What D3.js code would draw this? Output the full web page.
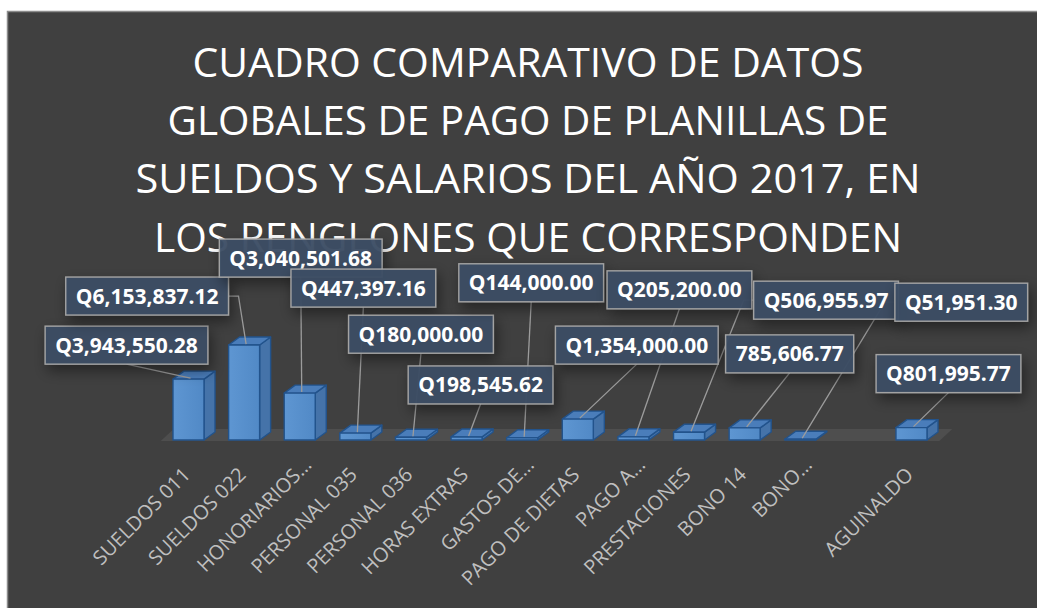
<!DOCTYPE html>
<html>
<head>
<meta charset="utf-8">
<script src="https://cdn.jsdelivr.net/npm/d3@7/dist/d3.min.js"></script>
<style>
  body { margin: 0; background: #ffffff; }
  svg { display: block; }
</style>
</head>
<body>
<script>
'use strict';

var categories = ['SUELDOS 011', 'SUELDOS 022', 'HONORIARIOS…', 'PERSONAL 035', 'PERSONAL 036',
    'HORAS EXTRAS', 'GASTOS DE…', 'PAGO DE DIETAS', 'PAGO A…', 'PRESTACIONES', 'BONO 14',
    'BONO…', '', 'AGUINALDO'];
var values = [3943550.28, 6153837.12, 3040501.68, 447397.16, 180000.00,
    198545.62, 144000.00, 1354000.00, 205200.00, 506955.97, 785606.77,
    51951.30, null, 801995.77];
var valueLabels = ['Q3,943,550.28', 'Q6,153,837.12', 'Q3,040,501.68', 'Q447,397.16', 'Q180,000.00',
    'Q198,545.62', 'Q144,000.00', 'Q1,354,000.00', 'Q205,200.00', 'Q506,955.97', '785,606.77',
    'Q51,951.30', '', 'Q801,995.77'];
var titleLines = ['CUADRO COMPARATIVO DE DATOS', 'GLOBALES DE PAGO DE PLANILLAS DE',
    'SUELDOS Y SALARIOS DEL AÑO 2017, EN', 'LOS RENGLONES QUE CORRESPONDEN'];

// layout: where each label box sits, relative to the top of its bar
var labelOffsets = [[-64, -33], [-99, -48], [-1, -134], [6, -144], [8, -102],
    [12, -51], [7, -154], [57, -73], [44, -146], [135, -131], [43, -73],
    [159, -136], null, [35, -53]];
var titleWidths = [671, 721, 785, 748];

var width = 1037,
    height = 608;
var depthX = 11,
    depthY = 8;

var svg = d3.select('body')
    .append('svg')
    .attr('width', width)
    .attr('height', height);

var defs = svg.append('defs');

var shadow = defs.append('filter')
    .attr('id', 'shadow')
    .attr('x', '-30%').attr('y', '-60%')
    .attr('width', '170%').attr('height', '260%');
shadow.append('feDropShadow')
    .attr('dx', 3).attr('dy', 6)
    .attr('stdDeviation', 7)
    .attr('flood-color', '#000')
    .attr('flood-opacity', 0.45);

var grad = defs.append('linearGradient')
    .attr('id', 'front')
    .attr('x1', 0).attr('x2', 1).attr('y1', 0).attr('y2', 0);
grad.append('stop').attr('offset', '0%').attr('stop-color', '#5e96d2');
grad.append('stop').attr('offset', '100%').attr('stop-color', '#5189c6');

// chart area frame
svg.append('rect')
    .attr('x', 7.5)
    .attr('y', 11.5)
    .attr('width', width)
    .attr('height', height)
    .attr('fill', '#404040')
    .attr('stroke', '#8c8c8c')
    .attr('stroke-width', 1.5);

// title
svg.append('g')
    .selectAll('text')
    .data(titleLines)
    .enter()
    .append('text')
    .attr('x', 528)
    .attr('y', function(d, i) { return 76.5 + i * 58.4; })
    .attr('text-anchor', 'middle')
    .attr('textLength', function(d, i) { return titleWidths[i]; })
    .attr('lengthAdjust', 'spacingAndGlyphs')
    .attr('fill', '#ffffff')
    .style('font-family', '"Open Sans", "Noto Sans", sans-serif')
    .style('font-size', '40.5px')
    .text(function(d) { return d; });

var x = d3.scaleBand()
    .domain(categories)
    .range([160.7, 939.3])
    .paddingInner(0.4424)
    .paddingOuter(0.2212);

var y = d3.scaleLinear()
    .domain([0, 7000000])
    .range([440, 332]);

// floor
var r = x.range();
var floor = [[r[0], y(0) + 1], [r[1], y(0) + 1], [r[1] + 13, y(0) - 11], [r[0] + 13, y(0) - 11]];
svg.append('polygon')
    .attr('points', floor.join(' '))
    .attr('fill', '#4e4e4e');

var data = categories.map(function(c, i) {
    return { cat: c, value: values[i], label: valueLabels[i], offset: labelOffsets[i] };
}).filter(function(d) { return d.value !== null; });

var bw = x.bandwidth();

var bar = svg.append('g')
    .selectAll('g')
    .data(data)
    .enter()
    .append('g')
    .attr('stroke', '#22538c')
    .attr('stroke-width', 1.4)
    .attr('stroke-linejoin', 'round');

bar.append('polygon') // side
    .attr('fill', '#4573a9')
    .attr('points', function(d) {
        var x0 = x(d.cat) + bw, yt = y(d.value), yb = y(0);
        return [[x0, yt], [x0 + depthX, yt - depthY], [x0 + depthX, yb - depthY], [x0, yb]].join(' ');
    });

bar.append('polygon') // top
    .attr('fill', '#4a7dba')
    .attr('points', function(d) {
        var x0 = x(d.cat), yt = y(d.value);
        return [[x0, yt], [x0 + depthX, yt - depthY], [x0 + bw + depthX, yt - depthY], [x0 + bw, yt]].join(' ');
    });

bar.append('rect') // front
    .attr('fill', 'url(#front)')
    .attr('x', function(d) { return x(d.cat); })
    .attr('y', function(d) { return y(d.value); })
    .attr('width', bw)
    .attr('height', function(d) { return y(0) - y(d.value); });

// category labels, rotated
svg.append('g')
    .selectAll('text')
    .data(categories)
    .enter()
    .append('text')
    .attr('transform', function(d) {
        // truncated names sit a little further along the diagonal
        var shift = d.slice(-1) === '…' ? 10 : 0;
        var tx = x(d) + bw / 2 + 3 + shift;
        var ty = y(0) + 36 - shift;
        return 'translate(' + tx + ',' + ty + ') rotate(-45)';
    })
    .attr('text-anchor', 'end')
    .attr('fill', '#bfbfbf')
    .style('font-family', '"Open Sans", "Noto Sans", sans-serif')
    .style('font-size', '20px')
    .text(function(d) { return d; });

// data labels with leader lines
var leaders = svg.append('g')
    .attr('fill', 'none')
    .attr('stroke', '#9c9c9c')
    .attr('stroke-width', 1.3);

var boxes = svg.append('g');

var lab = boxes.selectAll('g')
    .data(data)
    .enter()
    .append('g');

var rects = lab.append('rect');

var texts = lab.append('text')
    .attr('text-anchor', 'middle')
    .attr('fill', '#ffffff')
    .style('font-family', '"Open Sans", "Noto Sans", sans-serif')
    .style('font-weight', 'bold')
    .style('font-size', '21px')
    .text(function(d) { return d.label; });

texts.each(function(d) {
    var tw = this.getComputedTextLength();
    d.ax = x(d.cat) + bw / 2 + 2;
    d.ay = y(d.value) - 1;
    d.box = {
        w: tw + 20,
        h: 38
    };
    d.box.x = d.ax + d.offset[0] - d.box.w / 2;
    d.box.y = d.ay + d.offset[1] - d.box.h / 2;
});

texts
    .attr('x', function(d) { return d.box.x + d.box.w / 2; })
    .attr('y', function(d) { return d.box.y + d.box.h / 2 + 7.5; });

rects
    .attr('x', function(d) { return d.box.x; })
    .attr('y', function(d) { return d.box.y; })
    .attr('width', function(d) { return d.box.w; })
    .attr('height', function(d) { return d.box.h; })
    .attr('fill', '#3b4d64')
    .attr('fill-opacity', 0.95)
    .attr('stroke', '#a3a3a3')
    .attr('stroke-width', 1.4)
    .attr('filter', 'url(#shadow)');

function leaderPoints(d) {
    var b = d.box;
    if (d.ax >= b.x && d.ax <= b.x + b.w) {
        return [[b.x + b.w / 2, b.y + b.h], [d.ax, d.ay]];
    }
    var side = d.ax < b.x ? b.x : b.x + b.w;
    var elbow = d.ax < b.x ? side - 10 : side + 10;
    var my = b.y + b.h / 2;
    return [[side, my], [elbow, my], [d.ax, d.ay]];
}

leaders.selectAll('path')
    .data(data)
    .enter()
    .append('path')
    .attr('d', function(d) { return d3.line()(leaderPoints(d)); });
</script>
</body>
</html>
